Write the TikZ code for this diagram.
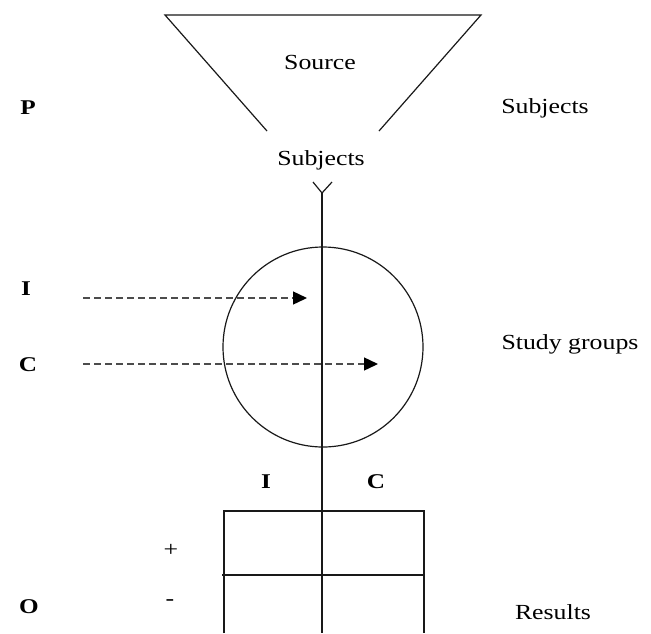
\documentclass[tikz,border=0pt]{standalone}
\usepackage{fontspec}
\setmainfont{Liberation Serif}[FakeStretch=1.2]
\usetikzlibrary{arrows.meta}
\tikzset{
  lbl/.style={inner sep=0pt, font=\fontsize{21.5}{25}\selectfont},
  blbl/.style={inner sep=0pt, font=\fontsize{21}{25}\selectfont\bfseries},
  ln/.style={line width=1.2pt, black!90},
  dasharrow/.style={line width=1.4pt, black!70, dash pattern=on 7pt off 4pt, -{Triangle[length=14pt,width=13pt,fill=black,color=black]}},
}
\begin{document}
\begin{tikzpicture}[x=1pt,y=-1pt]
\useasboundingbox (0,0) rectangle (651,633);
% funnel
\coordinate (tl) at (165,15);
\coordinate (tr) at (481,15);
\coordinate (bl) at (267,131);
\coordinate (br) at (379,131);
\draw[ln] (bl) -- (tl) -- (tr) -- (br);
\node[lbl] (source) at (320,62) {Source};
\node[lbl] (subj) at (321,160) {Subjects};
% V and vertical line
\coordinate (vl) at (313,182);
\coordinate (vr) at (332,182);
\coordinate (vtip) at (322,193);
\coordinate (vbot) at (322,633);
\draw[ln] (vl) -- (vtip) -- (vr);
\draw[ln] (vtip) -- (vbot);
% circle
\node[draw, ln, circle, minimum size=200pt, inner sep=0pt] (grp) at (323,347) {};
% left labels
\node[blbl] (P) at (28,108) {P};
\node[blbl] (I) at (26,289) {I};
\node[blbl] (C) at (28,365) {C};
\node[blbl] (O) at (29,607) {O};
% right labels
\node[lbl] (rsub) at (545,108) {Subjects};
\node[lbl] (rstudy) at (570,344) {Study groups};
\node[lbl] (rres) at (553,612) {Results};
% dashed arrows
\coordinate (ia) at (83,298);
\coordinate (ib) at (307,298);
\coordinate (ca) at (83,364);
\coordinate (cb) at (378,364);
\draw[dasharrow] (ia) -- (ib);
\draw[dasharrow] (ca) -- (cb);
% table
\coordinate (t1) at (224,633);
\coordinate (t2) at (224,511);
\coordinate (t3) at (424,511);
\coordinate (t4) at (424,633);
\draw[ln] (t1) -- (t2) -- (t3) -- (t4);
\coordinate (m1) at (222,575);
\coordinate (m2) at (424,575);
\draw[ln] (m1) -- (m2);
\node[blbl] (tI) at (266,482) {I};
\node[blbl] (tC) at (376,482) {C};
\node[lbl] (plus) at (171,550) {+};
\node[lbl] (minus) at (170,603) {-};
\end{tikzpicture}
\end{document}
